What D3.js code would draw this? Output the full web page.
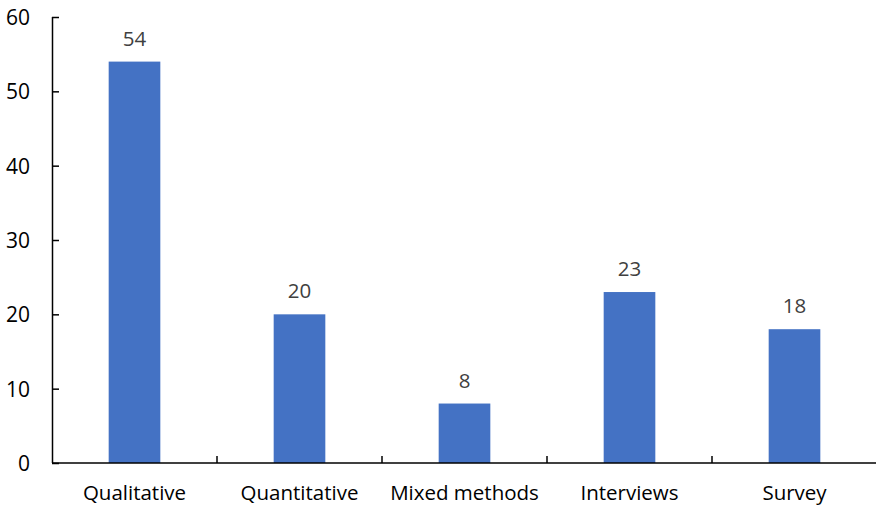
<!DOCTYPE html>
<html>
<head>
<meta charset="utf-8">
<script src="https://cdn.jsdelivr.net/npm/d3@7"></script>
<style>
  html, body { margin: 0; padding: 0; background: #fff; }
  svg { display: block; }
  text { font-family: "Open Sans", "Noto Sans", sans-serif; }
</style>
</head>
<body>
<div id="chart"></div>
<script>
// Study designs and counts
const categories = ["Qualitative", "Quantitative", "Mixed methods", "Interviews", "Survey"];
const counts = [54, 20, 8, 23, 18];
const yTicks = [0, 10, 20, 30, 40, 50, 60];

const width = 876, height = 508;
const margin = { top: 17, right: 0, bottom: 45, left: 52 };

const svg = d3.select("#chart").append("svg")
  .attr("width", width)
  .attr("height", height);

const x = d3.scaleBand()
  .domain(categories)
  .range([margin.left, margin.left + 825])
  .paddingInner(0.687)
  .paddingOuter(0.3435);

const band = d3.scaleBand().domain(categories).range([margin.left, margin.left + 825]);

const y = d3.scaleLinear()
  .domain([0, 60])
  .range([height - margin.bottom, margin.top]);

// Bars
svg.append("g")
  .selectAll("rect")
  .data(categories)
  .join("rect")
  .attr("x", d => x(d))
  .attr("y", (d, i) => y(counts[i]))
  .attr("width", x.bandwidth())
  .attr("height", (d, i) => y(0) - y(counts[i]))
  .attr("fill", "#4472c4");

// Value labels
svg.append("g")
  .selectAll("text")
  .data(categories)
  .join("text")
  .attr("x", d => x(d) + x.bandwidth() / 2)
  .attr("y", (d, i) => y(counts[i]) - 16)
  .attr("text-anchor", "middle")
  .attr("fill", "#404040")
  .attr("font-size", 20.5)
  .text((d, i) => counts[i]);

// Y axis with inward ticks
const yAxis = svg.append("g")
  .attr("transform", `translate(${margin.left},0)`)
  .call(d3.axisRight(y).tickValues(yTicks).tickSize(7).tickFormat(d3.format("d")));
yAxis.select(".domain").attr("stroke", "#000").attr("stroke-width", 1.5).attr("d", `M0.5,${margin.top}V${y(0)}`);
yAxis.selectAll(".tick line").attr("stroke", "#000").attr("stroke-width", 1.5);
yAxis.selectAll(".tick text")
  .attr("x", -22)
  .attr("text-anchor", "end")
  .attr("dy", "0.35em")
  .attr("font-size", 21)
  .attr("fill", "#000");

// X axis: ticks at category boundaries, pointing up
const xAxis = svg.append("g")
  .attr("transform", `translate(0,${y(0)})`);
xAxis.append("line")
  .attr("x1", margin.left)
  .attr("x2", margin.left + 825)
  .attr("stroke", "#000")
  .attr("stroke-width", 1.5);
xAxis.selectAll("line.bound")
  .data(categories)
  .join("line")
  .attr("class", "bound")
  .attr("x1", d => band(d) + band.bandwidth())
  .attr("x2", d => band(d) + band.bandwidth())
  .attr("y1", 0)
  .attr("y2", -7)
  .attr("stroke", "#000")
  .attr("stroke-width", 1.5);
xAxis.selectAll("text")
  .data(categories)
  .join("text")
  .attr("x", d => band(d) + band.bandwidth() / 2)
  .attr("y", 37)
  .attr("text-anchor", "middle")
  .attr("font-size", 20.5)
  .attr("fill", "#000")
  .text(d => d);
</script>
</body>
</html>
